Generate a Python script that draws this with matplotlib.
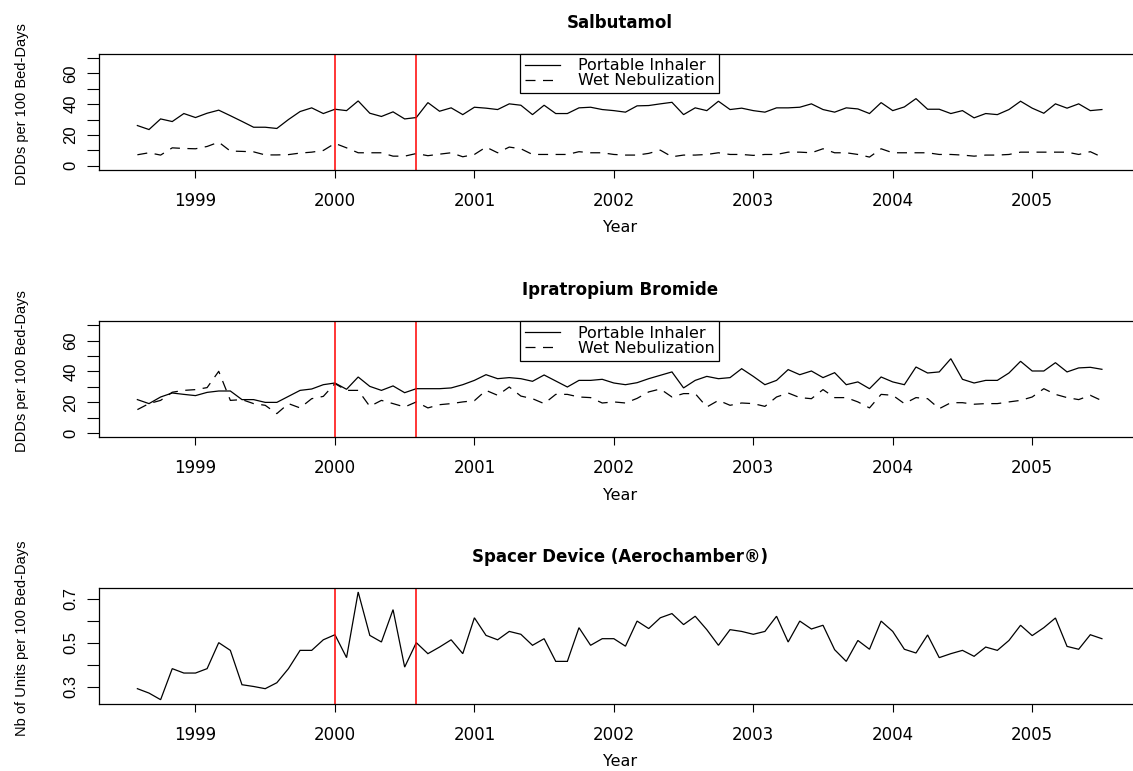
import numpy as np
import matplotlib
matplotlib.use("Agg")
import matplotlib.pyplot as plt
from matplotlib import font_manager as fm

# ---------------- data (monthly, Aug 1998 - Jul 2005) ----------------
start_year = 1998
start_month = 8

salb_inhaler = [26.1, 23.5, 30.4, 28.7, 33.9, 31.3, 34.1, 36.1, 32.5, 28.8,
                25.0, 25.0, 24.2, 30.0, 35.2, 37.6, 33.9, 36.7, 35.8, 42.1,
                34.1, 32.0, 35.0, 30.4, 31.3, 41.0, 35.4, 37.6, 33.2, 38.0,
                37.4, 36.5, 40.2, 39.3, 33.2, 39.3, 33.9, 33.9, 37.6, 38.0,
                36.5, 35.8, 34.8, 38.9, 39.1, 40.2, 41.2, 33.2, 37.6, 35.8,
                41.9, 36.5, 37.4, 35.8, 34.8, 37.6, 37.6, 38.0, 40.2, 36.5,
                34.8, 37.6, 36.9, 33.9, 41.0, 35.8, 38.2, 43.6, 36.7, 36.7,
                33.9, 35.8, 31.1, 33.9, 33.2, 36.5, 41.9, 37.4, 34.1, 40.2,
                37.4, 40.2, 35.8, 36.5]
salb_nebul = [7.1, 8.4, 6.9, 11.6, 11.2, 11.0, 12.5, 15.3, 9.5, 9.3,
              9.0, 7.0, 7.0, 7.2, 8.2, 8.8, 9.9, 14.5, 11.6, 8.4,
              8.4, 8.4, 6.2, 6.2, 7.9, 6.5, 7.5, 8.4, 5.8, 7.3,
              12.1, 8.4, 12.1, 11.0, 7.3, 7.3, 7.3, 7.3, 9.1, 8.4,
              8.4, 7.3, 6.9, 6.9, 8.0, 10.1, 5.8, 6.9, 6.9, 7.3,
              8.4, 7.3, 7.3, 6.7, 7.3, 7.3, 8.8, 8.8, 8.4, 11.0,
              8.4, 8.4, 7.3, 5.6, 11.0, 8.4, 8.4, 8.4, 8.4, 7.3,
              7.3, 6.9, 6.2, 6.9, 6.9, 7.3, 8.8, 8.8, 8.8, 8.8,
              8.8, 7.3, 9.1, 5.6]
ipra_inhaler = [21.7, 19.1, 23.4, 26.0, 25.1, 24.3, 26.4, 27.3, 27.3, 21.7,
                21.7, 19.9, 19.9, 23.8, 27.7, 28.6, 31.4, 32.5, 28.4, 36.4,
                30.3, 27.7, 30.6, 26.2, 28.8, 28.8, 28.8, 29.3, 31.4, 34.2,
                37.9, 35.3, 36.0, 35.3, 33.6, 37.7, 33.8, 29.9, 34.2, 34.2,
                34.9, 32.5, 31.4, 32.7, 35.3, 37.5, 39.7, 29.3, 34.2, 36.8,
                35.3, 36.0, 41.8, 36.8, 31.4, 34.2, 41.2, 37.9, 40.3, 36.0,
                39.2, 31.4, 33.2, 28.8, 36.4, 33.2, 31.4, 42.9, 39.0, 39.7,
                48.3, 34.9, 32.5, 34.2, 34.2, 39.0, 46.6, 40.3, 40.3, 45.7,
                39.7, 42.3, 42.7, 41.4]
ipra_nebul = [15.2, 19.1, 21.2, 26.5, 27.7, 28.2, 29.5, 40.1, 21.2, 21.7,
              19.1, 18.0, 12.6, 19.1, 16.3, 22.3, 23.8, 32.1, 27.7, 27.7,
              17.3, 21.2, 19.1, 16.9, 20.2, 16.3, 18.4, 19.1, 20.2, 21.0,
              27.7, 24.5, 29.9, 24.0, 22.3, 19.1, 25.1, 25.1, 23.4, 23.0,
              19.5, 20.2, 19.5, 22.5, 26.7, 28.6, 23.4, 25.6, 25.6, 16.9,
              21.2, 18.0, 19.5, 19.1, 17.3, 23.4, 26.0, 23.0, 22.3, 28.2,
              23.0, 23.0, 20.2, 16.3, 25.1, 24.5, 19.1, 23.0, 22.3, 15.8,
              19.7, 19.7, 18.7, 19.1, 19.1, 20.2, 21.2, 23.4, 28.8, 25.1,
              23.0, 21.7, 24.5, 21.0]
spacer = [0.291, 0.271, 0.241, 0.382, 0.362, 0.362, 0.382, 0.500, 0.465, 0.309,
          0.301, 0.291, 0.318, 0.382, 0.465, 0.465, 0.513, 0.536, 0.432, 0.730,
          0.533, 0.503, 0.650, 0.389, 0.500, 0.450, 0.480, 0.513, 0.450, 0.613,
          0.533, 0.513, 0.551, 0.538, 0.488, 0.518, 0.415, 0.415, 0.568, 0.488,
          0.518, 0.518, 0.484, 0.598, 0.564, 0.613, 0.632, 0.582, 0.620, 0.559,
          0.488, 0.559, 0.551, 0.538, 0.551, 0.620, 0.503, 0.598, 0.562, 0.579,
          0.468, 0.415, 0.510, 0.470, 0.598, 0.551, 0.470, 0.453, 0.535, 0.432,
          0.450, 0.465, 0.438, 0.480, 0.465, 0.510, 0.579, 0.532, 0.568, 0.612,
          0.483, 0.470, 0.536, 0.518]

interventions = [2000.0, 2000 + 7 / 12]
year_ticks = [1999, 2000, 2001, 2002, 2003, 2004, 2005]
ddd_ticks = [0, 10, 20, 30, 40, 50, 60, 70]
ddd_labels = ["0", "", "20", "", "40", "", "60", ""]
unit_ticks = [0.3, 0.4, 0.5, 0.6, 0.7]
unit_labels = ["0.3", "", "0.5", "", "0.7"]
titles = ["Salbutamol", "Ipratropium Bromide", "Spacer Device (Aerochamber\u00ae)"]
ylabels = ["DDDs per 100 Bed-Days", "DDDs per 100 Bed-Days",
           "Nb of Units per 100 Bed-Days"]
legend_labels = ["Portable Inhaler", "Wet Nebulization"]

# ---------------- fonts ----------------
names = {f.name for f in fm.fontManager.ttflist}
narrow = "Liberation Sans Narrow" if "Liberation Sans Narrow" in names else "Liberation Sans"
plt.rcParams["font.family"] = ["DejaVu Sans"]

W, H = 1133, 771
fig = plt.figure(figsize=(W / 100, H / 100), dpi=100)

left_px, right_px = 98.8, 1140.5
tops = [53.7, 321.0, 587.7]
ax_h = 116.3

n = len(spacer)
t = start_year + (start_month - 1) / 12 + np.arange(n) / 12
span = t[-1] - t[0]
xlim = (t[0] - 0.04 * span, t[-1] + 0.04 * span)


def make_axes(top):
    return fig.add_axes([left_px / W, 1 - (top + ax_h) / H,
                         (right_px - left_px) / W, ax_h / H])


axes = [make_axes(tp) for tp in tops]

series = [(salb_inhaler, salb_nebul), (ipra_inhaler, ipra_nebul), (spacer,)]

for k, ax in enumerate(axes):
    data = series[k]
    ax.plot(t, data[0], color="black", lw=0.9, solid_joinstyle="miter",
            label=legend_labels[0])
    if len(data) > 1:
        ax.plot(t, data[1], color="black", lw=0.9, linestyle=(0, (8, 6)),
                label=legend_labels[1])
    for xv in interventions:
        ax.axvline(xv, color="red", lw=1.1)
    ax.set_xlim(*xlim)
    if k < 2:
        lo, hi = 0, 70
        ax.set_yticks(ddd_ticks)
        ax.set_yticklabels(ddd_labels)
    else:
        lo, hi = min(spacer), max(spacer)
        ax.set_yticks(unit_ticks)
        ax.set_yticklabels(unit_labels)
    pad = 0.04 * (hi - lo)
    ax.set_ylim(lo - pad, hi + pad)
    ax.set_xticks(year_ticks)
    ax.set_xticklabels([str(y) for y in year_ticks])
    for s in ax.spines.values():
        s.set_linewidth(0.9)
        s.set_color("black")
    ax.tick_params(axis="x", direction="out", length=5.5, width=0.8,
                   pad=10, labelsize=12)
    ax.tick_params(axis="y", direction="out", length=8.6, width=0.8, pad=6)
    for lab in ax.get_yticklabels():
        lab.set_rotation(90)
        lab.set_va("center")
        lab.set_ha("right")
        lab.set_fontfamily(narrow)
        lab.set_fontsize(12)
    ax.annotate(titles[k], xy=(0.5, 1), xycoords="axes fraction",
                xytext=(0, 31), textcoords="offset pixels", ha="center",
                va="center", fontsize=12, fontweight="bold")
    ax.annotate("Year", xy=(0.5, 0), xycoords="axes fraction",
                xytext=(0, -58), textcoords="offset pixels", ha="center",
                va="center", fontsize=11.5)
    ax.annotate(ylabels[k], xy=(0, 0.5), xycoords="axes fraction",
                xytext=(-(left_px - 22), 8), textcoords="offset pixels",
                ha="center", va="center", rotation=90, fontsize=10.5,
                family=narrow)
    if len(data) > 1:
        leg = ax.legend(loc="upper center", bbox_to_anchor=(0.5, 1.0),
                        borderaxespad=0, fontsize=11.5, frameon=True,
                        fancybox=False, framealpha=1, edgecolor="black",
                        borderpad=0.3, labelspacing=0.0, handlelength=2.2,
                        handletextpad=1.1)
        leg.get_frame().set_linewidth(0.9)

fig.savefig("out.png", dpi=100)
